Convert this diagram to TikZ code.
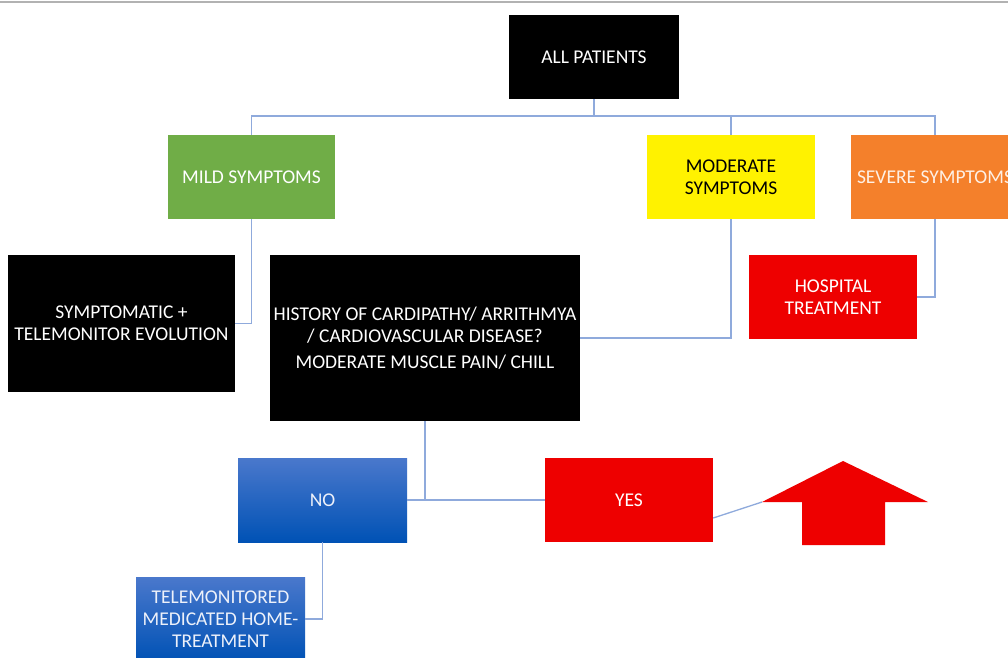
\documentclass[tikz,border=0pt]{standalone}
\usepackage{fontspec}
\setmainfont{Carlito}
\definecolor{conn}{HTML}{8FAADC}
\definecolor{mildg}{HTML}{70AD47}
\definecolor{modyel}{HTML}{FFF200}
\definecolor{sevor}{HTML}{F4802B}
\definecolor{redbox}{HTML}{EE0000}
\definecolor{bluetop}{HTML}{4A78CC}
\definecolor{bluebot}{HTML}{0052B5}
\begin{document}
\begin{tikzpicture}[x=1pt,y=-1pt,
  box/.style={rectangle,inner sep=0pt,align=center,text=white,
    font=\fontsize{19.5}{22}\selectfont},
  blackbox/.style={box,fill=black},
  greenbox/.style={box,fill=mildg,minimum width=167pt,minimum height=84pt},
  yelbox/.style={box,fill=modyel,text=black,minimum width=168pt,minimum height=84pt},
  orbox/.style={box,fill=sevor,text=white!88!sevor,minimum width=168pt,minimum height=84pt},
  redb/.style={box,fill=redbox,minimum width=168pt,minimum height=84pt},
  blueb/.style={box,top color=bluetop,bottom color=bluebot,text=white!90!bluetop},
  link/.style={draw=conn,line width=1.3pt}]
\useasboundingbox (0,0) rectangle (1008,657);
\clip (0,0) rectangle (1008,657);
\fill[white] (0,0) rectangle (1008,657);
\draw[gray!60,line width=2pt] (0,2) -- (1008,2);

\node[blackbox,minimum width=170pt,minimum height=84pt] (all) at (594,57) {ALL PATIENTS};
\node[greenbox] (mild) at (251.5,177) {MILD SYMPTOMS};
\node[yelbox] (mod) at (731,177) {MODERATE\\SYMPTOMS};
\node[orbox] (sev) at (935,177) {SEVERE SYMPTOMS};

\node[blackbox,minimum width=227pt,minimum height=137pt] (sympt) at (121.5,323.5) {SYMPTOMATIC +\\TELEMONITOR EVOLUTION};
\node[blackbox,minimum width=310pt,minimum height=166pt] (hist) at (425,338) {HISTORY OF CARDIPATHY/ ARRITHMYA\\/ CARDIOVASCULAR DISEASE?\\[4pt]MODERATE MUSCLE PAIN/ CHILL};
\node[redb] (hosp) at (833,297) {HOSPITAL\\TREATMENT};

\node[blueb,minimum width=169pt,minimum height=84pt] (no) at (322.5,500) {NO};
\node[redb] (yes) at (629,500) {YES};
\node[blueb,minimum width=169pt,minimum height=84pt] (home) at (220.5,619) {TELEMONITORED\\MEDICATED HOME-\\TREATMENT};

\coordinate (bus) at (594,116);
\coordinate (wing) at (762,502);
\fill[redbox] (wing) -- (843,461) -- (928,502) -- (885,502) -- (885,545) -- (802,545) -- (802,502) -- cycle;

\draw[link] (all.south) -- (bus);
\draw[link] (mild.north) |- (bus) -| (sev.north);
\draw[link] (mod.north) -- (mod.north |- bus);
\draw[link] (mild.south) |- (sympt.east);
\draw[link] (mod.south) |- (hist.east);
\draw[link] (sev.south) |- (hosp.east);
\draw[link] (hist.south) -- (hist.south |- no.east);
\draw[link] (no.east) -- (yes.west);
\draw[link] ([yshift=-18pt]yes.east) -- (wing);
\draw[link] (no.south) |- (home.east);
\end{tikzpicture}
\end{document}
